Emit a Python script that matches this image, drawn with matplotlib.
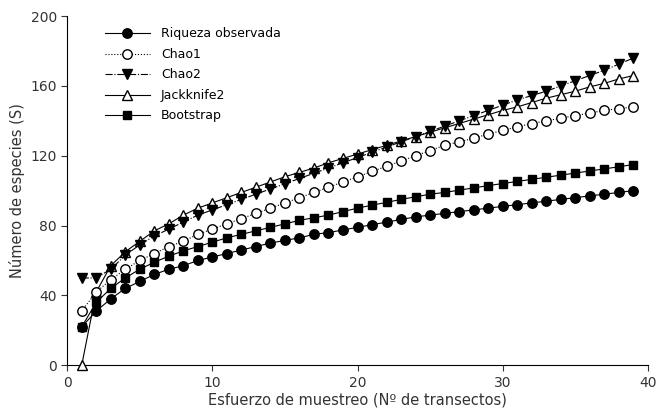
import matplotlib.pyplot as plt

transectos = list(range(1, 40))

riqueza = [22, 31, 38, 44, 48, 52, 55, 57, 60, 62, 64, 66, 68, 70, 71.5, 73, 75, 76, 77.5, 79,
           80.5, 82, 83.5, 85, 86, 87, 88, 89, 90, 91, 92, 93, 94, 95, 96, 97, 98, 99, 100]
chao1 = [31, 42, 49, 55, 60, 64, 68, 71, 75, 78, 81, 84, 87, 90, 93, 96, 99, 102, 105, 108,
         111, 114, 117, 120, 123, 126, 128, 130, 132.5, 134.5, 136.5, 138.5, 140, 141.5, 143,
         144.5, 146, 147, 148]
chao2 = [50, 50, 55, 63, 69, 74, 78, 82, 86, 89, 92, 95, 98, 101, 104, 107, 110, 113, 116, 119,
         122, 125, 128, 131, 134, 137, 140, 143, 146, 149, 152, 154.5, 157, 160, 163, 166, 169,
         172.5, 176]
jackknife2 = [0, 42, 57, 65, 71, 77, 81, 86, 90, 93, 96, 99, 102, 105, 108, 110.5, 113, 116,
              118.5, 121, 123.5, 126, 128.5, 131, 133.5, 136, 138.5, 141, 143.5, 146, 148, 150.5,
              153, 155, 157, 159.5, 161.5, 164, 166]
bootstrap = [22, 36, 44, 50, 55, 59, 62.5, 65.5, 68, 70.5, 73, 75, 77, 79, 81, 83, 84.5, 86,
             88, 90, 91.7, 93.3, 95, 96.5, 98, 99, 100.3, 101.6, 102.9, 104.1, 105.3, 106.5,
             107.7, 108.9, 110.1, 111.3, 112.5, 113.7, 115]

plt.rcParams['font.family'] = 'DejaVu Sans'
fig = plt.figure(figsize=(6.59, 4.15), dpi=100)
ax = fig.add_axes([0.102, 0.12, 0.881, 0.841])

ms = 6.8
ax.plot(transectos, jackknife2, color='black', linestyle='-', linewidth=0.8, marker='^',
        markerfacecolor='white', markeredgecolor='black', markersize=ms, label='Jackknife2',
        zorder=3, clip_on=False)
ax.plot(transectos, chao2, color='black', linestyle='-.', linewidth=0.8, marker='v',
        markerfacecolor='black', markersize=ms, label='Chao2', zorder=4)
ax.plot(transectos, chao1, color='black', linestyle=':', linewidth=0.8, marker='o',
        markerfacecolor='white', markeredgecolor='black', markersize=ms, label='Chao1', zorder=3)
ax.plot(transectos, bootstrap, color='black', linestyle='-', linewidth=0.8, marker='s',
        markerfacecolor='black', markersize=ms - 0.5, label='Bootstrap', zorder=3)
ax.plot(transectos, riqueza, color='black', linestyle='-', linewidth=0.8, marker='o',
        markerfacecolor='black', markersize=ms, label='Riqueza observada', zorder=3)

handles, labels = ax.get_legend_handles_labels()
orden = ['Riqueza observada', 'Chao1', 'Chao2', 'Jackknife2', 'Bootstrap']
h = [handles[labels.index(l)] for l in orden]
ax.legend(h, orden, loc='upper left', bbox_to_anchor=(0.045, 1.0), frameon=False,
          fontsize=9, handlelength=3.6, handletextpad=0.9, labelspacing=0.6)

ax.set_xlim(0, 40)
ax.set_ylim(0, 200)
ax.set_xticks([0, 10, 20, 30, 40])
ax.set_yticks([0, 40, 80, 120, 160, 200])
ax.spines['top'].set_visible(False)
ax.spines['right'].set_visible(False)
ax.tick_params(direction='out', length=4, labelsize=10, colors='#333333')
ax.set_xlabel('Esfuerzo de muestreo (Nº de transectos)', fontsize=10.5, color='#333333', labelpad=2)
ax.set_ylabel('Número de especies (S)', fontsize=10.5, color='#333333', labelpad=4)

fig.savefig('out.png', dpi=100)
